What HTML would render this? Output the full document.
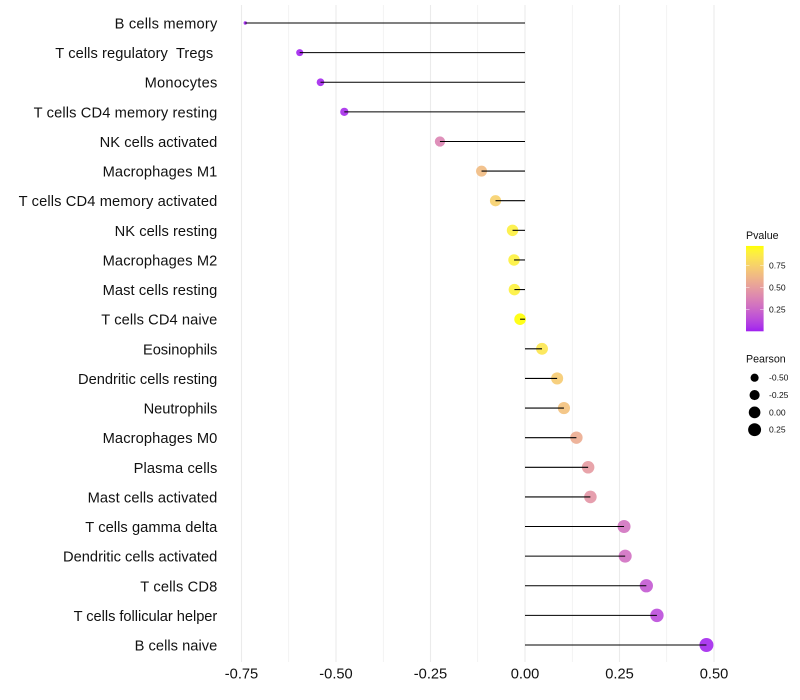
<!DOCTYPE html>
<html lang="en">
<head>
<meta charset="utf-8">
<title>Pearson lollipop chart</title>
<style>
html,body{margin:0;padding:0;background:#fff;}
svg{display:block;}
text{font-family:"Liberation Sans",Arial,sans-serif;white-space:pre;}
</style>
</head>
<body>
<svg id="chart" width="800" height="700" viewBox="0 0 800 700" xmlns="http://www.w3.org/2000/svg">
<rect width="800" height="700" fill="#fff"/>
<g id="grid"></g>
<g id="marks"></g>
<g id="ylabels"></g>
<g id="xlabels"></g>
<g id="colorlegend"></g>
<g id="sizelegend"></g>
</svg>
<script>
const categories = ["B cells memory","T cells regulatory  Tregs ","Monocytes","T cells CD4 memory resting","NK cells activated","Macrophages M1","T cells CD4 memory activated","NK cells resting","Macrophages M2","Mast cells resting","T cells CD4 naive","Eosinophils","Dendritic cells resting","Neutrophils","Macrophages M0","Plasma cells","Mast cells activated","T cells gamma delta","Dendritic cells activated","T cells CD8","T cells follicular helper","B cells naive"];
const labelWidths = [102.7,162,72.7,183.7,117.7,114.7,198.7,102.7,114.7,114.7,116,74.3,139.3,73.7,114.7,83.7,129.7,132,154.3,77,143.7,82.7];
const pearson = [-0.74,-0.596,-0.541,-0.478,-0.225,-0.115,-0.078,-0.033,-0.029,-0.028,-0.013,0.045,0.085,0.103,0.136,0.167,0.173,0.262,0.265,0.321,0.349,0.48];
const pvalue = [0.0,0.01,0.02,0.03,0.38,0.64,0.74,0.89,0.9,0.9,0.97,0.85,0.72,0.67,0.57,0.48,0.46,0.3,0.29,0.19,0.14,0.02];
const xTicks = [-0.75,-0.5,-0.25,0,0.25,0.5];
const xMinorTicks = [-0.625,-0.375,-0.125,0.125,0.375];
const xTickLabels = ["-0.75","-0.50","-0.25","0.00","0.25","0.50"];
const pvalueTicks = [0.25,0.5,0.75];
const pvalueTickLabels = ["0.25","0.50","0.75"];
const pvalueDomain = [0,0.97];
const sizeLegendValues = [-0.5,-0.25,0,0.25];
const sizeLegendLabels = ["-0.50","-0.25","0.00","0.25"];

const NS = "http://www.w3.org/2000/svg";
function make(parent, tag, attrs, txt){
  const el = document.createElementNS(NS, tag);
  for (const k in attrs) el.setAttribute(k, attrs[k]);
  if (txt !== undefined) el.textContent = txt;
  parent.appendChild(el);
  return el;
}
function xScale(v){ return 525 + v * 378; }
function yScale(i){ return 23 + i * (622 / 21); }
function radius(v){
  const lo = Math.min.apply(null, pearson), hi = Math.max.apply(null, pearson);
  const t = Math.min(1, Math.max(0, (v - lo) / ((hi - lo) || 1)));
  return 1.7 + 5.3 * Math.sqrt(t);
}
function pvalueY(p){ return 331.3 - (p - pvalueDomain[0]) * 88; }

function labF(t){ return t > 0.008856 ? Math.cbrt(t) : 7.787*t + 16/116; }
function toLab(rgb){
  const l = rgb.map(c => { c/=255; return c>0.04045 ? Math.pow((c+0.055)/1.055,2.4) : c/12.92; });
  const X = (0.4124*l[0]+0.3576*l[1]+0.1805*l[2])/0.95047;
  const Y = 0.2126*l[0]+0.7152*l[1]+0.0722*l[2];
  const Z = (0.0193*l[0]+0.1192*l[1]+0.9505*l[2])/1.08883;
  const fx=labF(X), fy=labF(Y), fz=labF(Z);
  return [116*fy-16, 500*(fx-fy), 200*(fy-fz)];
}
function fromLab(L){
  const fy=(L[0]+16)/116, fx=fy+L[1]/500, fz=fy-L[2]/200;
  const inv = t => { const c=t*t*t; return c>0.008856 ? c : (t-16/116)/7.787; };
  const X=inv(fx)*0.95047, Y=inv(fy), Z=inv(fz)*1.08883;
  const lin=[3.2406*X-1.5372*Y-0.4986*Z, -0.9689*X+1.8758*Y+0.0415*Z, 0.0557*X-0.2040*Y+1.0570*Z];
  const out = lin.map(c => { c=Math.min(1,Math.max(0,c)); const s = c>0.0031308 ? 1.055*Math.pow(c,1/2.4)-0.055 : 12.92*c; return Math.round(s*255); });
  return "rgb("+out.join(",")+")";
}
const labLow = toLab([160,32,240]);
const labHigh = toLab([255,255,0]);
function colour(p){
  const t = Math.min(1, Math.max(0, (p - pvalueDomain[0]) / (pvalueDomain[1] - pvalueDomain[0])));
  return fromLab(labLow.map((c,i) => c + (labHigh[i]-c)*t));
}

const grid = document.getElementById("grid");
xMinorTicks.forEach(v => {
  const l = make(grid, "line", {x1:xScale(v), x2:xScale(v), y1:5, y2:662, stroke:"#ebebeb", "stroke-width":0.55});
  
  
});
xTicks.forEach(v => {
  const l = make(grid, "line", {x1:xScale(v), x2:xScale(v), y1:5, y2:662, stroke:"#ebebeb", "stroke-width":1.07});
  
  
});

const marks = document.getElementById("marks");
const ylabels = document.getElementById("ylabels");
categories.forEach((name,i) => {
  const v = pearson[i];
  const c = make(marks, "circle", {cx:xScale(v), cy:yScale(i), r:radius(v), fill:colour(pvalue[i]), "fill-opacity":0.9});
  
  
  const s = make(marks, "line", {x1:xScale(0), x2:xScale(v), y1:yScale(i), y2:yScale(i), stroke:"#000", "stroke-width":1.07});
  
  
  const t = make(ylabels, "text", {x:217.3, y:yScale(i)+5.5, "text-anchor":"end", "font-size":14.67, fill:"#111", textLength:labelWidths[i], lengthAdjust:"spacing"}, name);
  
  
});

const xlabels = document.getElementById("xlabels");
xTicks.forEach((v,i) => {
  const t = make(xlabels, "text", {x:xScale(v), y:678.4, "text-anchor":"middle", "font-size":14.67, fill:"#111"}, xTickLabels[i]);
  
  
});

const cl = document.getElementById("colorlegend");
const defs = make(document.getElementById("chart"), "defs", {});
const grad = make(defs, "linearGradient", {id:"pgrad", x1:0, y1:1, x2:0, y2:0});
for (let k = 0; k <= 20; k++) {
  const p = pvalueDomain[0] + (pvalueDomain[1]-pvalueDomain[0]) * k / 20;
  make(grad, "stop", {offset:(k/20), "stop-color":colour(p)});
}
const clTitle = make(cl, "text", {x:746, y:239, "font-size":10.67, fill:"#111"}, "Pvalue");


const bar = make(cl, "rect", {x:746, y:pvalueY(pvalueDomain[1]), width:17.6, height:pvalueY(pvalueDomain[0])-pvalueY(pvalueDomain[1]), fill:"url(#pgrad)"});


pvalueTicks.forEach((p,i) => {
  const y = pvalueY(p);
  const a = make(cl, "line", {x1:746, x2:749.5, y1:y, y2:y, stroke:"#fff", "stroke-width":0.5, "stroke-opacity":0.9});
  
  
  const b = make(cl, "line", {x1:760.1, x2:763.6, y1:y, y2:y, stroke:"#fff", "stroke-width":0.5, "stroke-opacity":0.9});
  
  
  const t = make(cl, "text", {x:769, y:y+3, "font-size":8.53, fill:"#111"}, pvalueTickLabels[i]);
  
  
});

const sl = document.getElementById("sizelegend");
const slTitle = make(sl, "text", {x:746, y:362.5, "font-size":10.67, fill:"#111"}, "Pearson");


sizeLegendValues.forEach((v,i) => {
  const y = 377.7 + i * 17.33;
  const c = make(sl, "circle", {cx:754.6, cy:y, r:radius(v), fill:"#000"});
  
  
  const t = make(sl, "text", {x:769, y:y+3, "font-size":8.53, fill:"#111"}, sizeLegendLabels[i]);
  
  
});
</script>
</body>
</html>
